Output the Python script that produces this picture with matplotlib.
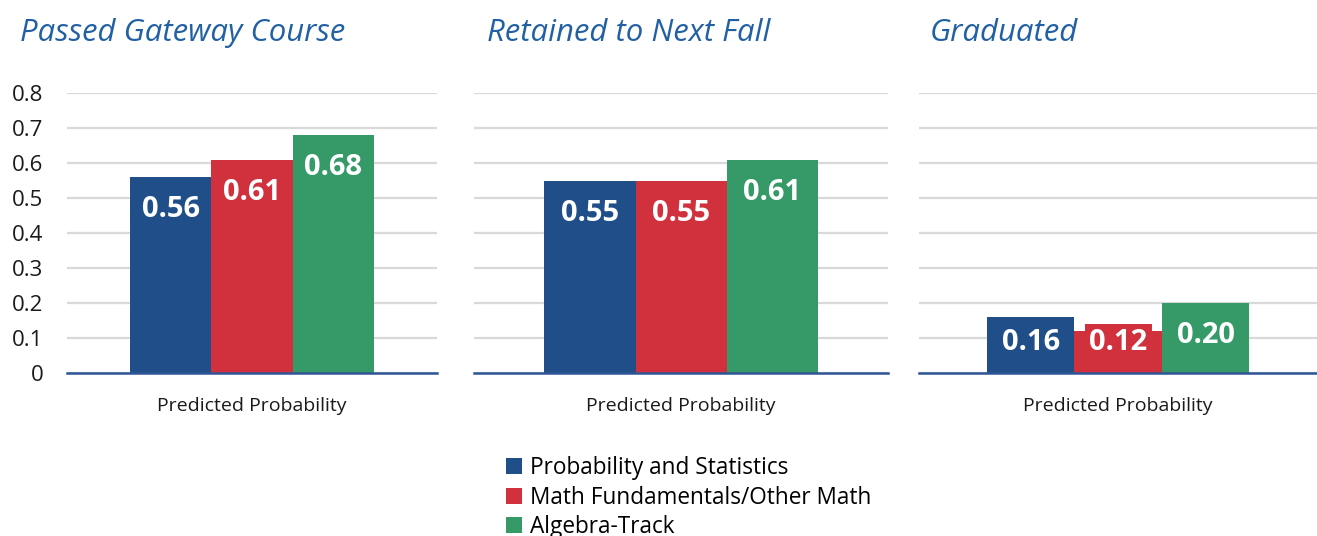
import matplotlib.pyplot as plt
from matplotlib.patches import Patch

plt.rcParams['font.family'] = ['Open Sans', 'DejaVu Sans']

# datos
paneles = ['Passed Gateway Course', 'Retained to Next Fall', 'Graduated']
series = ['Probability and Statistics', 'Math Fundamentals/Other Math', 'Algebra-Track']
prob_estad = [0.56, 0.55, 0.16]
fundamentos = [0.61, 0.55, 0.12]
algebra = [0.68, 0.61, 0.20]
categoria = 'Predicted Probability'
yticks = [0, 0.1, 0.2, 0.3, 0.4, 0.5, 0.6, 0.7, 0.8]
ytick_labels = ['0', '0.1', '0.2', '0.3', '0.4', '0.5', '0.6', '0.7', '0.8']

colores = ['#1F4E89', '#D1313D', '#359A68']
azul_titulo = '#2260A4'

fig = plt.figure(figsize=(13.17, 5.36), dpi=100)

# posiciones de los paneles (fraccion de figura)
posiciones = [
    [0.0509, 0.304, 0.281, 0.5224],
    [0.360, 0.304, 0.3143, 0.5224],
    [0.698, 0.304, 0.302, 0.5224],
]
titulo_x = [20 / 1317, 487 / 1317, 930 / 1317]

valores = list(zip(prob_estad, fundamentos, algebra))
ancho = 0.22
desplaz = [-ancho, 0, ancho]

for i, pos in enumerate(posiciones):
    ax = fig.add_axes(pos)
    for j in range(3):
        v = valores[i][j]
        ax.bar(desplaz[j], v, width=ancho, color=colores[j], zorder=3)
        # etiqueta dentro del extremo, sin bajar demasiado en barras cortas
        y_et = max(v - 0.094, 0.086)
        ax.text(desplaz[j], y_et, f'{v:.2f}', ha='center', va='center',
                color='white', fontsize=21, fontweight='bold', zorder=4,
                bbox=dict(boxstyle='square,pad=0.15', facecolor=colores[j],
                          edgecolor='none'))
    ax.set_xlim(-0.5, 0.5)
    ax.set_ylim(0, 0.8)
    ax.set_yticks(yticks)
    ax.grid(axis='y', color='#D9D9D9', linewidth=1.6, zorder=0)
    ax.set_axisbelow(True)
    for s in ['top', 'right', 'left']:
        ax.spines[s].set_visible(False)
    ax.spines['bottom'].set_color('#2F5597')
    ax.spines['bottom'].set_linewidth(1.8)
    ax.spines['bottom'].set_zorder(5)
    ax.set_xticks([0])
    ax.set_xticklabels([categoria], fontsize=14, color='#1A1A1A')
    ax.tick_params(axis='x', length=0, pad=17)
    if i == 0:
        ax.set_yticklabels(ytick_labels, fontsize=16, color='#1A1A1A')
        ax.tick_params(axis='y', length=0, pad=17)
    else:
        ax.tick_params(axis='y', length=0, labelleft=False)
    fig.text(titulo_x[i], 1 - 33 / 536, paneles[i], fontsize=22.4, style='italic',
             color=azul_titulo, ha='left', va='center')

handles = [Patch(facecolor=c) for c in colores]
fig.legend(handles, series, loc='upper left', bbox_to_anchor=(506 / 1317, 1 - 456 / 536),
           frameon=False, fontsize=16.3, handlelength=0.7, handleheight=0.7,
           handletextpad=0.35, labelspacing=0.25, borderaxespad=0, borderpad=0)

fig.savefig('out.png', dpi=100)
